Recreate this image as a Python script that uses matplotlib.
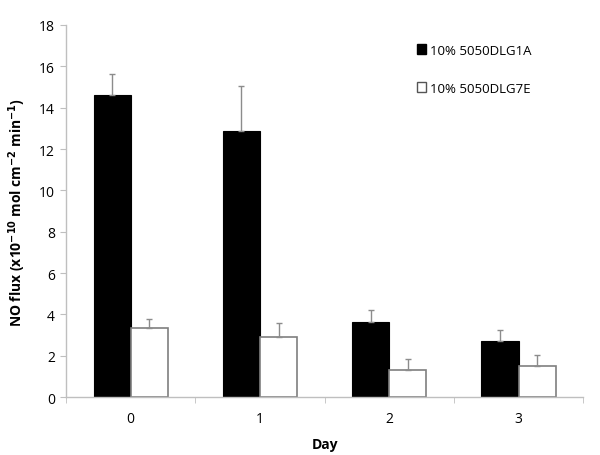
import matplotlib.pyplot as plt
import numpy as np
from matplotlib.patches import Patch

days = ["0", "1", "2", "3"]
dlg1a = [14.6, 12.85, 3.64, 2.69]
dlg1a_err = [1.02, 2.18, 0.59, 0.54]
dlg7e = [3.32, 2.92, 1.29, 1.50]
dlg7e_err = [0.45, 0.65, 0.53, 0.52]

plt.rcParams['font.family'] = ['Open Sans', 'DejaVu Sans']

fig = plt.figure(figsize=(6, 4.56), dpi=100)
ax = fig.add_axes([0.11, 0.127, 0.862, 0.816])

x = np.arange(len(days))
w = 0.287
grey = "#8c8c8c"
ax.bar(x - w / 2, dlg1a, w, color="black", edgecolor="black", linewidth=0.8)
ax.bar(x + w / 2, dlg7e, w, color="white", edgecolor="#7f7f7f", linewidth=1.2)
ax.errorbar(x - w / 2, dlg1a, yerr=[np.zeros(4), dlg1a_err], fmt="none",
            ecolor=grey, elinewidth=1, capsize=2, capthick=1)
ax.errorbar(x + w / 2, dlg7e, yerr=[np.zeros(4), dlg7e_err], fmt="none",
            ecolor=grey, elinewidth=1, capsize=2, capthick=1)

ax.set_xlim(-0.5, 3.5)
ax.set_ylim(0, 18)
ax.set_yticks(range(0, 19, 2))
ax.set_xticks(x)
ax.set_xticklabels(days)
ax.set_xticks(np.arange(-0.5, 4, 1), minor=True)
ax.tick_params(axis="x", which="major", length=0, pad=10, labelsize=10)
ax.tick_params(axis="x", which="minor", length=4, color="#bfbfbf", direction="out")
ax.tick_params(axis="y", length=4, color="#bfbfbf", labelsize=10, pad=4)

for s in ["top", "right"]:
    ax.spines[s].set_visible(False)
for s in ["left", "bottom"]:
    ax.spines[s].set_color("#bfbfbf")
    ax.spines[s].set_linewidth(1)

ax.set_xlabel("Day", fontweight="bold", fontsize=10, labelpad=8)
ax.set_ylabel(r"NO flux (x10$^{\mathbf{-10}}$ mol cm$^{\mathbf{-2}}$ min$^{\mathbf{-1}}$)",
              fontweight="bold", fontsize=10, labelpad=8)

handles = [Patch(facecolor="black", edgecolor="black", label="10% 5050DLG1A"),
           Patch(facecolor="white", edgecolor="#555555", label="10% 5050DLG7E")]
ax.legend(handles=handles, loc="upper left", bbox_to_anchor=(0.66, 0.975),
          frameon=False, fontsize=9.5, handlelength=0.75, handleheight=0.75,
          handletextpad=0.3, labelspacing=1.9, borderpad=0.2)

fig.savefig("out.png", dpi=100)
